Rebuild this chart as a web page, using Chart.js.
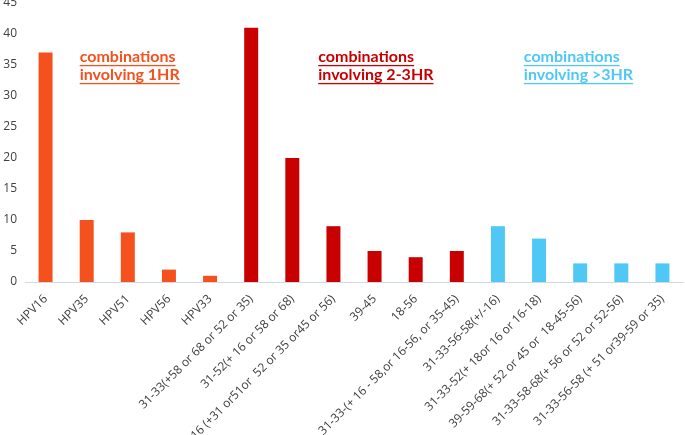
<!DOCTYPE html>
<html>
<head>
<meta charset="utf-8">
<script src="https://cdn.jsdelivr.net/npm/chart.js@4"></script>
<style>
  html, body { margin: 0; padding: 0; background: #fff; }
  #wrap { width: 685px; height: 435px; }
</style>
</head>
<body>
<div id="wrap"><canvas id="c"></canvas></div>
<script>
const ORANGE = "#f4511e";
const RED = "#c80000";
const BLUE = "#4fc8f5";
const TICK = "#404040";

const labels = [
  "HPV16", "HPV35", "HPV51", "HPV56", "HPV33",
  "31-33(+58 or 68 or 52 or 35)",
  "31-52(+ 16 or 58 or 68)",
  "16 (+31 or51or  52 or 35 or45 or 56)",
  "39-45",
  "18-56",
  "31-33-(+ 16 - 58,or 16-56, or 35-45)",
  "31-33-56-58(+/-16)",
  "31-33-52(+ 18or 16 or 16-18)",
  "39-59-68(+ 52 or 45 or  18-45-56)",
  "31-33-58-68(+ 56 or 52 or 52-56)",
  "31-33-56-58 (+ 51 or39-59 or 35)",
];
const counts = [37, 10, 8, 2, 1, 41, 20, 9, 5, 4, 5, 9, 7, 3, 3, 3];
const groups = [0, 0, 0, 0, 0, 1, 1, 1, 1, 1, 1, 2, 2, 2, 2, 2];
const groupColors = [ORANGE, RED, BLUE];
const notes = [
  { lines: ["combinations", "involving 1HR"], color: ORANGE, at: 0.83 },
  { lines: ["combinations", "involving 2-3HR"], color: RED, at: 6.63 },
  { lines: ["combinations", "involving >3HR"], color: BLUE, at: 11.63 },
];

const notePlugin = {
  id: "notes",
  afterDraw(chart) {
    const ctx = chart.ctx;
    const x = chart.scales.x, y = chart.scales.y;
    const left0 = x.getPixelForValue(0), step = x.getPixelForValue(1) - left0;
    ctx.save();
    ctx.font = "bold 16px Lato";
    ctx.textBaseline = "middle";
    notes.forEach((n) => {
      const px = left0 + n.at * step;
      n.lines.forEach((t, i) => {
        const py = y.getPixelForValue(36.3) + i * 18;
        ctx.fillStyle = n.color;
        ctx.fillText(t, px, py);
        const w = ctx.measureText(t).width;
        ctx.fillRect(px, py + 8, w, 1.3);
      });
    });
    ctx.restore();
  },
};

new Chart(document.getElementById("c"), {
  type: "bar",
  data: {
    labels,
    datasets: [{
      data: counts,
      backgroundColor: groups.map((g) => groupColors[g]),
      barPercentage: 0.68,
      categoryPercentage: 0.5,
    }],
  },
  options: {
    responsive: true,
    maintainAspectRatio: false,
    animation: false,
    layout: { padding: { top: 3, right: 2, left: 0, bottom: 0 } },
    plugins: { legend: { display: false }, tooltip: { enabled: false } },
    scales: {
      x: {
        grid: { display: false, drawTicks: false },
        border: { color: "#d0dae3", width: 1 },
        ticks: { color: TICK, font: { family: "Open Sans", size: 12 }, minRotation: 45, maxRotation: 45, padding: 10, autoSkip: false },
        afterFit: (s) => { s.height = 153; },
      },
      y: {
        min: 0, max: 45,
        grid: { display: false, drawTicks: false },
        border: { display: false },
        ticks: { stepSize: 5, color: TICK, font: { family: "Open Sans", size: 12 }, padding: 8 },
        afterFit: (s) => { s.width = 25; s.paddingTop = 0; },
      },
    },
  },
  plugins: [notePlugin],
});
</script>
</body>
</html>
